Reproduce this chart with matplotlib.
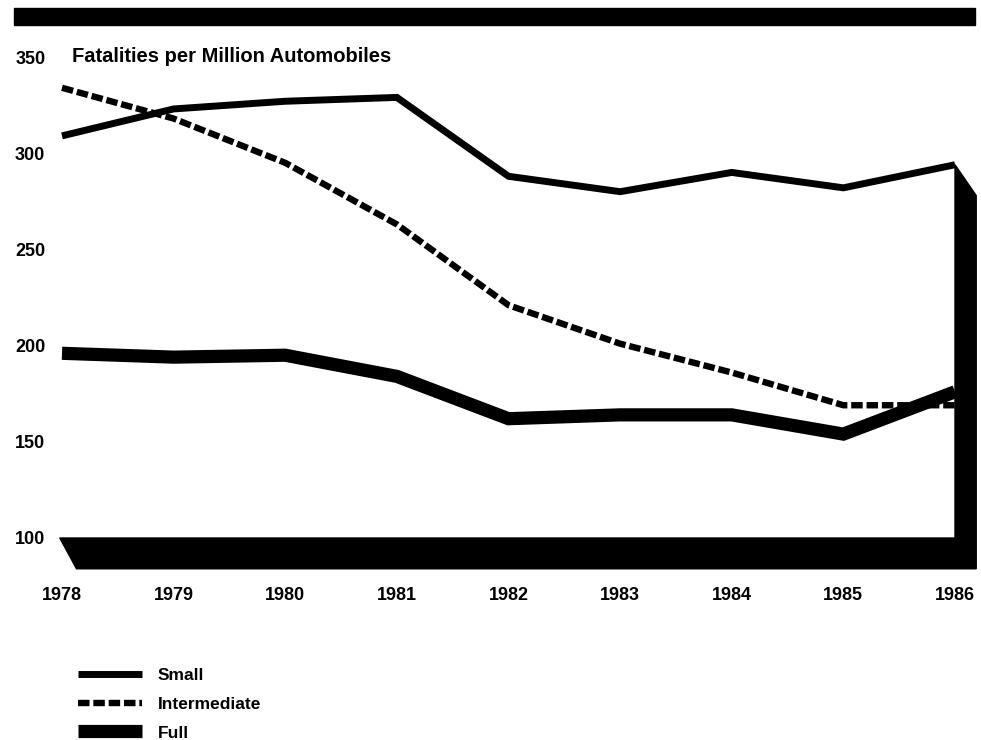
import matplotlib.pyplot as plt
from matplotlib.patches import Polygon, Rectangle

plt.rcParams['font.family'] = ['Liberation Sans', 'DejaVu Sans']

years = ['1978', '1979', '1980', '1981', '1982', '1983', '1984', '1985', '1986']
small = [309, 323, 327, 329, 288, 280, 290, 282, 294]
intermediate = [334, 318, 295, 263, 221, 201, 186, 169, 169]
full = [196, 194, 195, 184, 162, 164, 164, 154, 176]
yticks = [100, 150, 200, 250, 300, 350]

W, H = 981, 740
fig = plt.figure(figsize=(W / 100, H / 100), dpi=100)
ax = fig.add_axes([62 / W, 1 - 538 / H, (955 - 62) / W, (538 - 57) / H])

x = list(range(len(years)))
ax.plot(x, small, color='black', lw=5, solid_joinstyle='miter',
        solid_capstyle='butt', clip_on=False, label='Small')
ax.plot(x, intermediate, color='black', lw=4.6, dashes=(1.8, 0.6),
        dash_capstyle='butt', clip_on=False, label='Intermediate')
ax.plot(x, full, color='black', lw=9.5, solid_joinstyle='miter',
        solid_capstyle='butt', clip_on=False, label='Full')

ax.set_xlim(0, 8)
ax.set_ylim(100, 350)

# 3D floor and right wall
floor = Polygon([(-0.02, 100), (8, 100), (8, small[-1]), (8.19, small[-1] - 16),
                 (8.19, 84), (0.13, 84)], closed=True, color='black',
                clip_on=False, zorder=5)
ax.add_patch(floor)

for s in ax.spines.values():
    s.set_visible(False)
ax.set_xticks(x)
ax.set_xticklabels(years, fontweight='bold', fontsize=13)
ax.set_yticks(yticks)
ax.set_yticklabels([str(v) for v in yticks], fontweight='bold', fontsize=13)
ax.tick_params(axis='x', length=0, pad=35)
ax.tick_params(axis='y', length=0, pad=12)

# top black bar
fig.add_artist(Rectangle((14 / W, 1 - 25 / H), (975 - 14) / W, 17 / H,
                         transform=fig.transFigure, color='black'))
fig.text(72 / W, 1 - 57 / H, 'Fatalities per Million Automobiles',
         fontweight='bold', fontsize=14.5, va='center', ha='left')

leg = ax.legend(loc='upper left', bbox_to_anchor=(78 / W, 1 - 668 / H),
                bbox_transform=fig.transFigure, frameon=False, fontsize=12.5,
                handlelength=3.7, handletextpad=0.9, labelspacing=0.78,
                borderpad=0, borderaxespad=0)
for t in leg.get_texts():
    t.set_fontweight('bold')

fig.savefig('out.png', dpi=100)
